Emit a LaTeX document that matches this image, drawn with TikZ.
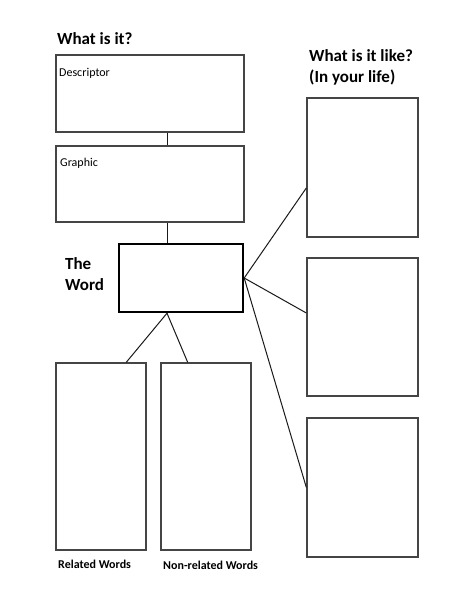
\documentclass[tikz,border=0pt]{standalone}
\usepackage{fontspec}
\setmainfont{Carlito}
\usepackage{tikz}
\usetikzlibrary{positioning, calc}
\definecolor{boxline}{HTML}{454545}
\definecolor{linkline}{HTML}{1A1A1A}
\tikzstyle{card} = [rectangle, draw=boxline, line width=1.3pt, fill=white, inner sep=0pt]
\tikzstyle{wordcard} = [rectangle, draw=black, line width=2.4pt, fill=white, inner sep=0pt]
\tikzstyle{heading} = [anchor=west, inner sep=0pt, font=\fontsize{17}{21}\selectfont\bfseries, align=left]
\tikzstyle{tag} = [anchor=west, inner sep=0pt, font=\fontsize{12}{14}\selectfont]
\tikzstyle{link} = [line width=1pt, color=linkline]

\begin{document}
\begin{tikzpicture}[x=1pt, y=-1pt]
    \useasboundingbox[fill=white] (0,0) rectangle (474,613);

    % left column
    \node[card, minimum width=188, minimum height=77] (desc) at (150,93.5) {};
    \node[card, minimum width=188, minimum height=76] (graphic) at (150,184) {};
    \node[wordcard, minimum width=124, minimum height=68] (word) at (181,278) {};
    \node[card, minimum width=90, minimum height=187] (related) at (101,456.5) {};
    \node[card, minimum width=90, minimum height=187] (nonrel) at (206,456.5) {};

    % right column
    \node[card, minimum width=111, minimum height=139] (like1) at (362.5,167.5) {};
    \node[card, minimum width=111, minimum height=138] (like2) at (362.5,327) {};
    \node[card, minimum width=111, minimum height=139] (like3) at (362.5,487.5) {};

    % texts
    \node[heading] (askwhat) at (57,39) {What is it?};
    \node[heading] (asklike) at (309,67) {What is it like?\\(In your life)};
    \node[heading] (theword) at (65,274) {The\\Word};
    \node[tag] (desclbl) at (59,73) {Descriptor};
    \node[tag] (graphlbl) at (60,163) {Graphic};
    \node[tag, font=\fontsize{12}{14}\selectfont\bfseries] (rellbl) at (58,564) {Related Words};
    \node[tag, font=\fontsize{12}{14}\selectfont\bfseries] (nonlbl) at (163,565) {Non-related Words};

    \coordinate (spine) at (167,0);

    \draw[link] (desc.south -| spine) -- (graphic.north -| spine);
    \draw[link] (graphic.south -| spine) -- (word.north -| spine);
    \draw[link] (word.south -| spine) -- (related.75);
    \draw[link] (word.south -| spine) -- (nonrel.101);
    \draw[link] (word.east) -- (like1.200);
    \draw[link] (word.east) -- (like2.166);
    \draw[link] (word.east) -- (like3.west);
\end{tikzpicture}
\end{document}
